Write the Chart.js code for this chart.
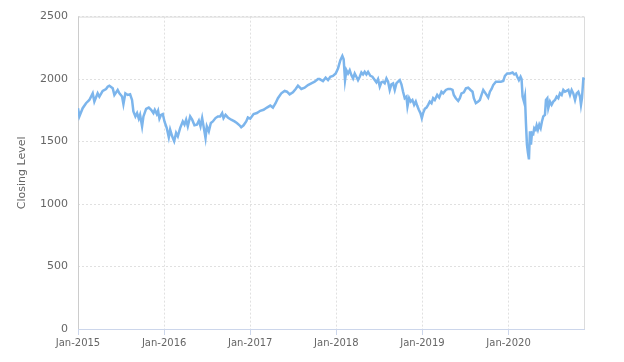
<!DOCTYPE html>
<html>
<head>
<meta charset="utf-8">
<script src="https://cdn.jsdelivr.net/npm/chart.js@4/dist/chart.umd.min.js"></script>
<style>
  html, body { margin: 0; padding: 0; background: #fff; }
  #wrap { width: 624px; height: 362px; }
</style>
</head>
<body>
<div id="wrap"><canvas id="chart"></canvas></div>
<script>
// months since Jan-2015
const months = [
  0, 0.19, 0.65, 1.12, 1.58, 2.05, 2.28, 2.74, 2.98, 3.44, 3.91, 4.14, 4.37, 4.84, 5.07, 5.53, 5.77, 6.14, 6.33, 6.60,
  6.93, 7.26, 7.53, 7.72, 8.00, 8.23, 8.47, 8.65, 8.93, 9.12, 9.49, 9.86, 10.19, 10.51, 10.70, 10.98, 11.16, 11.35, 11.58, 11.81,
  12.05, 12.37, 12.65, 12.84, 13.12, 13.40, 13.67, 13.91, 14.23, 14.60, 14.84, 15.07, 15.30, 15.63, 15.91, 16.23, 16.56, 16.84, 17.07, 17.30,
  17.58, 17.77, 17.95, 18.23, 18.51, 18.79, 19.16, 19.49, 19.81, 20.09, 20.28, 20.56, 20.88, 21.35, 21.81, 22.14, 22.51, 22.74, 23.07, 23.44,
  23.67, 24.00, 24.47, 24.93, 25.40, 25.86, 26.33, 26.79, 27.16, 27.53, 27.86, 28.33, 28.79, 29.12, 29.49, 29.95, 30.33, 30.65, 31.12, 31.58,
  32.05, 32.51, 32.98, 33.44, 33.67, 34.14, 34.51, 34.84, 35.16, 35.53, 35.91, 36.23, 36.56, 36.84, 37.02, 37.21, 37.40, 37.63, 37.86, 38.09,
  38.33, 38.56, 38.79, 39.02, 39.26, 39.49, 39.72, 39.95, 40.19, 40.42, 40.74, 41.02, 41.35, 41.58, 41.81, 42.05, 42.28, 42.51, 42.74, 42.98,
  43.21, 43.44, 43.67, 43.91, 44.14, 44.37, 44.60, 44.84, 45.07, 45.30, 45.53, 45.77, 45.91, 46.14, 46.37, 46.60, 46.84, 47.07, 47.26, 47.49,
  47.72, 47.91, 48.09, 48.33, 48.56, 48.79, 49.02, 49.26, 49.49, 49.72, 50.05, 50.33, 50.65, 50.88, 51.26, 51.58, 51.91, 52.19, 52.37, 52.65,
  52.98, 53.21, 53.44, 53.77, 54.05, 54.37, 54.70, 54.98, 55.16, 55.44, 55.77, 56.00, 56.23, 56.47, 56.70, 56.93, 57.16, 57.40, 57.63, 57.86,
  58.23, 58.56, 58.93, 59.26, 59.49, 59.81, 60.19, 60.56, 60.79, 61.02, 61.21, 61.44, 61.67, 61.81, 61.95, 62.14, 62.28, 62.42, 62.56, 62.70,
  62.84, 62.98, 63.12, 63.26, 63.44, 63.58, 63.77, 63.91, 64.09, 64.28, 64.47, 64.65, 64.84, 65.07, 65.21, 65.40, 65.53, 65.77, 66.00, 66.23,
  66.47, 66.70, 66.93, 67.16, 67.40, 67.63, 67.86, 68.09, 68.33, 68.56, 68.79, 69.02, 69.26, 69.49, 69.72, 69.95, 70.09, 70.23, 70.42, 70.51
];

const closing = [
  1767, 1701, 1767, 1807, 1833, 1886, 1820, 1886, 1860, 1905, 1921, 1939, 1947, 1926, 1873, 1913, 1886, 1860, 1799, 1886,
  1873, 1878, 1833, 1741, 1701, 1728, 1683, 1714, 1622, 1701, 1762, 1772, 1754, 1728, 1754, 1720, 1746, 1683, 1714, 1720,
  1661, 1608, 1534, 1595, 1542, 1503, 1569, 1542, 1608, 1661, 1635, 1675, 1622, 1701, 1675, 1630, 1635, 1667, 1622, 1688,
  1595, 1529, 1622, 1582, 1648, 1661, 1688, 1701, 1701, 1728, 1688, 1714, 1693, 1675, 1661, 1648, 1630, 1614, 1630, 1661,
  1693, 1683, 1720, 1728, 1746, 1754, 1772, 1788, 1772, 1807, 1847, 1886, 1905, 1899, 1878, 1894, 1921, 1947, 1921, 1931,
  1952, 1966, 1979, 2000, 2000, 1984, 2011, 1992, 2019, 2026, 2045, 2085, 2151, 2185, 2159, 1992, 2071, 2045, 2071, 2032,
  2005, 2045, 2019, 1992, 2019, 2053, 2037, 2058, 2037, 2058, 2026, 2019, 1992, 1974, 2000, 1939, 1974, 1979, 1966, 2005,
  1979, 1913, 1958, 1966, 1913, 1966, 1979, 1992, 1958, 1899, 1847, 1860, 1780, 1847, 1820, 1833, 1794, 1820, 1788, 1754,
  1728, 1688, 1728, 1762, 1772, 1794, 1820, 1807, 1847, 1833, 1873, 1852, 1899, 1886, 1913, 1921, 1921, 1913, 1873, 1847,
  1825, 1847, 1886, 1894, 1926, 1931, 1913, 1899, 1847, 1807, 1820, 1833, 1873, 1913, 1894, 1873, 1852, 1899, 1921, 1952,
  1979, 1979, 1979, 1984, 2026, 2045, 2045, 2053, 2037, 2045, 2019, 1992, 2019, 2000, 1860, 1820, 1860, 1648, 1476, 1410,
  1357, 1582, 1476, 1569, 1561, 1608, 1595, 1630, 1595, 1635, 1608, 1661, 1701, 1714, 1833, 1847, 1767, 1820, 1794, 1820,
  1833, 1860, 1847, 1886, 1873, 1913, 1899, 1905, 1913, 1873, 1913, 1886, 1833, 1886, 1899, 1860, 1794, 1847, 2005, 2011
];

const firstYear = 2015;
const xMax = 70.65;
const yTicks = [0, 500, 1000, 1500, 2000, 2500];

// рамка вокруг области графика + оси
const plotBorder = {
  id: 'plotBorder',
  beforeDatasetsDraw(chart) {
    const { ctx, chartArea: a } = chart;
    ctx.save();
    ctx.lineWidth = 1;
    ctx.strokeStyle = '#dcdcdc';
    ctx.strokeRect(a.left + 0.5, a.top + 0.5, a.right - a.left - 1, a.bottom - a.top);
    ctx.strokeStyle = '#cccccc';
    ctx.beginPath();
    ctx.moveTo(a.left + 0.5, a.top);
    ctx.lineTo(a.left + 0.5, a.bottom);
    ctx.stroke();
    ctx.strokeStyle = '#ccd6eb';
    ctx.beginPath();
    ctx.moveTo(a.left, a.bottom + 0.5);
    ctx.lineTo(a.right, a.bottom + 0.5);
    ctx.stroke();
    ctx.restore();
  }
};

new Chart(document.getElementById('chart'), {
  type: 'line',
  data: {
    datasets: [{
      label: 'Closing Level',
      data: months.map((m, i) => ({ x: m, y: closing[i] })),
      borderColor: '#7cb5ec',
      borderWidth: 2.5,
      pointRadius: 0,
      tension: 0,
      fill: false
    }]
  },
  options: {
    responsive: true,
    maintainAspectRatio: false,
    animation: false,
    layout: { padding: { left: 16, right: 39, top: 13, bottom: 0 } },
    plugins: { legend: { display: false }, tooltip: { enabled: false } },
    scales: {
      x: {
        type: 'linear',
        min: 0,
        max: xMax,
        afterFit: s => { s.height = 33; },
        ticks: {
          stepSize: 12,
          includeBounds: false,
          autoSkip: false,
          maxRotation: 0,
          padding: 2,
          color: '#666',
          font: { family: 'DejaVu Sans', size: 10 },
          callback: v => (v % 12 === 0 ? 'Jan-' + (firstYear + v / 12) : '')
        },
        grid: {
          color: '#e0e0e0',
          tickColor: '#ccd6eb',
          tickLength: 6
        },
        border: { display: false, dash: [2, 2] }
      },
      y: {
        min: 0,
        max: 2500,
        afterFit: s => { s.width = 62; },
        afterBuildTicks: s => { s.ticks = yTicks.map(v => ({ value: v })); },
        ticks: {
          padding: 10,
          color: '#666',
          font: { family: 'DejaVu Sans', size: 11 },
          callback: v => String(v)
        },
        grid: {
          color: '#e0e0e0',
          drawTicks: false
        },
        border: { display: false, dash: [2, 2] },
        title: {
          display: true,
          text: 'Closing Level',
          color: '#666',
          padding: { top: 0, bottom: 0 },
          font: { family: 'DejaVu Sans', size: 11 }
        }
      }
    }
  },
  plugins: [plotBorder]
});
</script>
</body>
</html>
